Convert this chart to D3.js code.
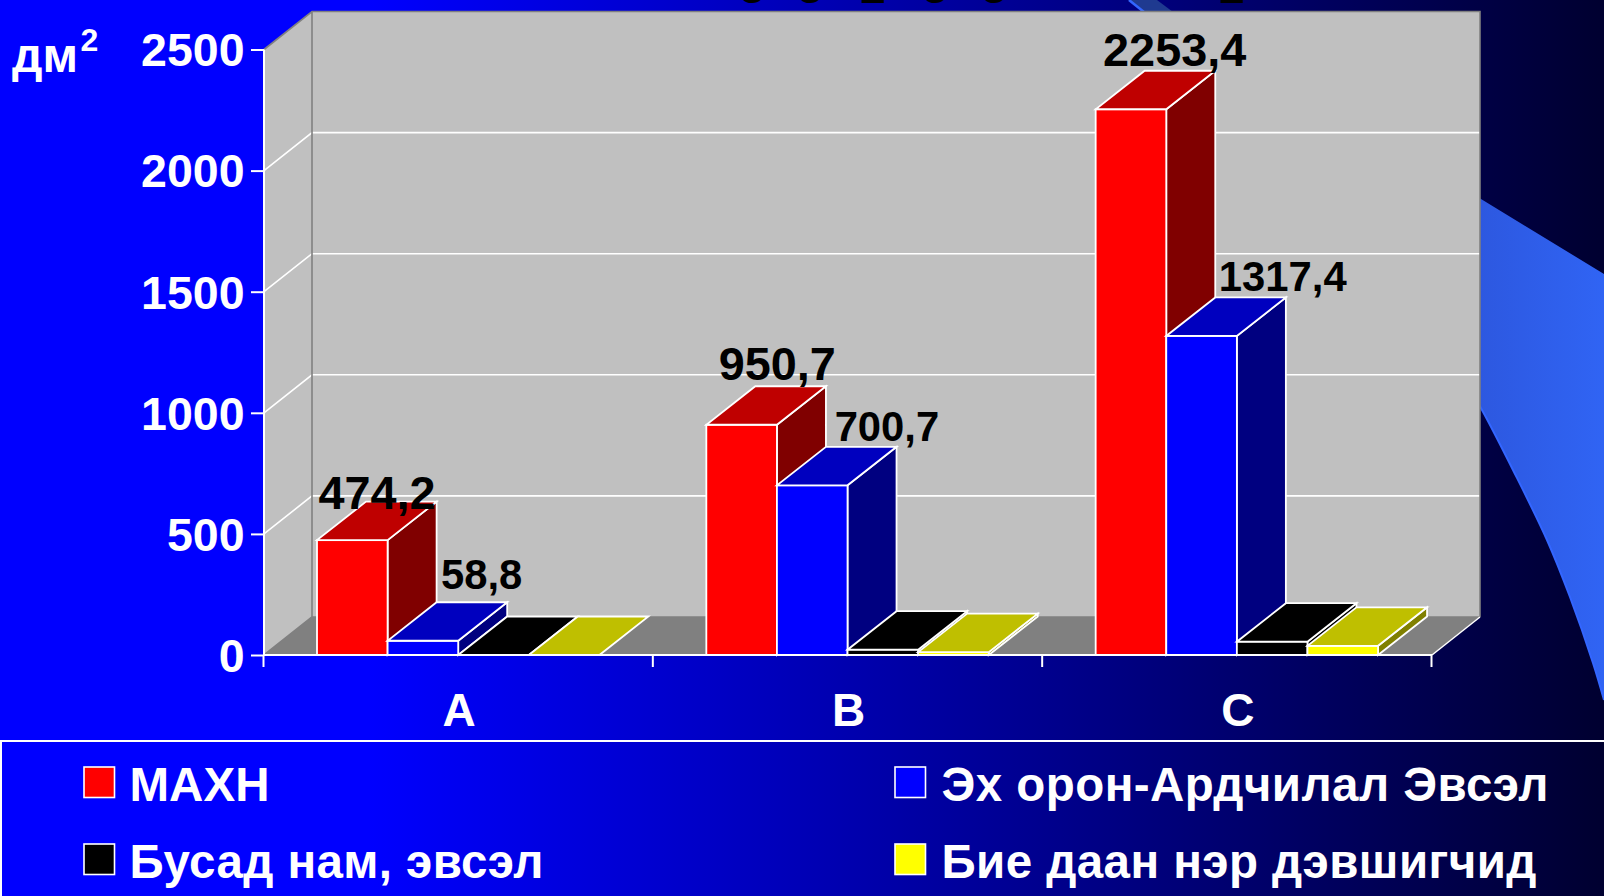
<!DOCTYPE html>
<html><head><meta charset="utf-8">
<script src="https://cdn.jsdelivr.net/npm/d3@7"></script>
<style>html,body{margin:0;padding:0;overflow:hidden;background:#00f}svg{display:block}text{font-family:"Liberation Sans",Arial,sans-serif;font-weight:bold}</style>
</head><body><svg id="c" width="1604" height="896"></svg>
<script>
const categories = ["A","B","C"];
const seriesNames = ["МАХН","Эх орон-Ардчилал Эвсэл","Бусад нам, эвсэл","Бие даан нэр дэвшигчид"];
const maxn   = [474.2, 950.7, 2253.4];
const ehoron = [58.8, 700.7, 1317.4];
const busad  = [0, 22, 55];
const biedaan= [0, 12, 38];
const seriesValues = [maxn, ehoron, busad, biedaan];
const valueTicks = [0,500,1000,1500,2000,2500];
const labelTexts = [["474,2","950,7","2253,4"],["58,8","700,7","1317,4"],null,null];

// style and layout
const frontColors = ["#ff0000","#0000ff","#000000","#ffff00"];
const topColors   = ["#bf0000","#0000bf","#000000","#bfbf00"];
const sideColors  = ["#800000","#000080","#000000","#808000"];
const labelSizes  = [46.8, 41.8];
const labelDx = [[60,71,79],[94,110,116.5]];
const labelDy = [[-31,-45,-43],[-52,-44,-45]];
const dx = 48, dy = 38, barDx = 49, barDy = 38.5, barW = 70.6, barStart = 53;
const L = 264, R = 1432, T = 49.5, B = 655;
const legendLengths = [140, 607, 414, 595];

const svg = d3.select("#c");
const defs = svg.append("defs");
const g1 = defs.append("linearGradient").attr("id","bg").attr("x1",0).attr("x2",1).attr("y1",0).attr("y2",0);
[[0,"#0000ff"],[0.23,"#0000ff"],[1,"#000030"]].forEach(s=>g1.append("stop").attr("offset",s[0]).attr("stop-color",s[1]));
const g2 = defs.append("linearGradient").attr("id","wave").attr("gradientUnits","userSpaceOnUse").attr("x1",1480).attr("x2",1604).attr("y1",0).attr("y2",0);
[[0,"#2d58e0"],[1,"#3064f4"]].forEach(s=>g2.append("stop").attr("offset",s[0]).attr("stop-color",s[1]));

svg.append("rect").attr("width",1604).attr("height",896).attr("fill","url(#bg)");

// decorative background wave
const wavePts = [[1450,355],[1482,410],[1513,470],[1547,540],[1570,597],[1593,663],[1604,700]];
const waveLine = d3.line().curve(d3.curveCatmullRom)(wavePts);
svg.append("path").attr("fill","url(#wave)").attr("d",waveLine+"L1604,274L1481,199L1440,175Z");
svg.append("path").attr("fill","none").attr("stroke","#3366ff").attr("stroke-width",2).attr("d",waveLine);
svg.append("path").attr("fill","#1f3a90").attr("d","M1128,0L1157,0L1173,12L1144,12Z");
svg.append("path").attr("fill","none").attr("stroke","#3366ff").attr("stroke-width",2.5).attr("d","M1129,0L1144,12");

// clipped title glyphs at the very top edge
const titleGlyphs = [["о",752],["о",810],["2",873],["о",935],["о",994],["2",1232]];
svg.append("g").selectAll("text").data(titleGlyphs).join("text")
  .attr("x",d=>d[1]).attr("y",2.5).attr("text-anchor","middle").attr("font-size",46).attr("fill","#000").text(d=>d[0]);

const x = d3.scaleBand().domain(categories).range([L,R]);
const y = d3.scaleLinear().domain([0,2500]).range([B,T]);
const poly = pts => "M"+pts.map(p=>p.join(",")).join("L")+"Z";

// walls and floor
svg.append("path").attr("d",poly([[L,y(0)],[L+dx,y(0)-dy],[L+dx,y(2500)-dy],[L,y(2500)]])).attr("fill","#c0c0c0");
svg.append("rect").attr("x",L+dx).attr("y",y(2500)-dy).attr("width",R-L).attr("height",y(0)-y(2500)).attr("fill","#c0c0c0");
svg.append("path").attr("d",poly([[L,y(0)],[R,y(0)],[R+dx,y(0)-dy],[L+dx,y(0)-dy]])).attr("fill","#808080");
// gridlines
const gridVals = valueTicks.filter(v=>v>0&&v<2500);
svg.append("g").selectAll("path").data(gridVals).join("path")
  .attr("d",v=>`M${L},${y(v)}L${L+dx},${y(v)-dy}L${R+dx},${y(v)-dy}`)
  .attr("fill","none").attr("stroke","#fff").attr("stroke-width",1.6);
// wall edges
svg.append("path").attr("d",`M${L},${y(2500)}L${L+dx},${y(2500)-dy}L${R+dx},${y(2500)-dy}L${R+dx},${y(0)-dy}M${L+dx},${y(2500)-dy}L${L+dx},${y(0)-dy}L${L},${y(0)}M${L+dx},${y(0)-dy}L${R+dx},${y(0)-dy}`)
  .attr("fill","none").attr("stroke","#808080").attr("stroke-width",1.6);
svg.append("path").attr("d",`M${R},${y(0)}L${R+dx},${y(0)-dy}`).attr("fill","none").attr("stroke","#fff").attr("stroke-width",1.5);

// bars
const barsG = svg.append("g").attr("stroke","#fff").attr("stroke-width",1.8).attr("stroke-linejoin","miter");
categories.forEach((c,ci)=>{
  seriesValues.forEach((vals,si)=>{
    const v = vals[ci], x0 = x(c)+barStart+si*barW, x1 = x0+barW, yt = y(v), yb = y(0);
    const g = barsG.append("g");
    if (v>0) {
      g.append("path").attr("d",poly([[x1,yb],[x1+barDx,yb-barDy],[x1+barDx,yt-barDy],[x1,yt]])).attr("fill",sideColors[si]);
      g.append("rect").attr("x",x0).attr("y",yt).attr("width",barW).attr("height",yb-yt).attr("fill",frontColors[si]);
    }
    g.append("path").attr("d",poly([[x0,yt],[x1,yt],[x1+barDx,yt-barDy],[x0+barDx,yt-barDy]])).attr("fill",topColors[si]);
  });
});

// axes
const axisY = d3.axisLeft(y).tickValues(valueTicks).tickSize(13).tickPadding(6.5).tickFormat(d3.format("d"));
const gy = svg.append("g").attr("transform",`translate(${L},0)`).call(axisY);
gy.selectAll(".tick text").attr("font-size",46.5).attr("fill","#fff").attr("font-family",null).attr("y",1.5);
gy.selectAll(".tick line").attr("stroke","#fff").attr("stroke-width",2);
gy.select(".domain").attr("stroke","#fff").attr("stroke-width",2).attr("d",`M0,${T}V${B}`);

const axisX = d3.axisBottom(x).tickSize(0).tickPadding(38);
const gx = svg.append("g").attr("transform",`translate(0.5,${B})`).call(axisX);
gx.selectAll(".tick text").attr("font-size",46).attr("fill","#fff").attr("font-family",null);
gx.select(".domain").attr("stroke","#fff").attr("stroke-width",2).attr("d",`M${L-0.5},0H${R-0.5}`);
const edges = categories.map(c=>x(c)).concat([R]);
gx.append("g").selectAll("line").data(edges).join("line")
  .attr("x1",d=>d-1).attr("x2",d=>d-1).attr("y1",0).attr("y2",12).attr("stroke","#fff").attr("stroke-width",2);

// unit label
svg.append("text").attr("x",12).attr("y",72).attr("font-size",48).attr("fill","#fff").text("дм");
svg.append("text").attr("x",80.5).attr("y",51).attr("font-size",32).attr("fill","#fff").text("2");

// data labels
labelTexts.forEach((row,si)=>{
  if(!row) return;
  row.forEach((t,ci)=>{
    const x0 = x(categories[ci])+barStart+si*barW;
    svg.append("text").attr("x",x0+labelDx[si][ci]).attr("y",y(seriesValues[si][ci])+labelDy[si][ci])
      .attr("text-anchor","middle").attr("font-size",labelSizes[si]).attr("fill","#000").text(t);
  });
});

// legend
svg.append("path").attr("d","M1604,741H1V896").attr("fill","none").attr("stroke","#fff").attr("stroke-width",2);
const legendCols = [84,895], legendRows = [767,844], legendTextX = [129.5,941.5];
seriesNames.forEach((n,i)=>{
  const col = i%2, cx = legendCols[col], cy = legendRows[Math.floor(i/2)];
  svg.append("rect").attr("x",cx).attr("y",cy).attr("width",30.5).attr("height",30.5)
    .attr("fill",frontColors[i]).attr("stroke","#fff").attr("stroke-width",1.6);
  svg.append("text").attr("x",legendTextX[col]).attr("y",cy+33.5).attr("font-size",47.5).attr("fill","#fff")
    .attr("textLength",legendLengths[i]).attr("lengthAdjust","spacing").text(n);
});
</script></body></html>
